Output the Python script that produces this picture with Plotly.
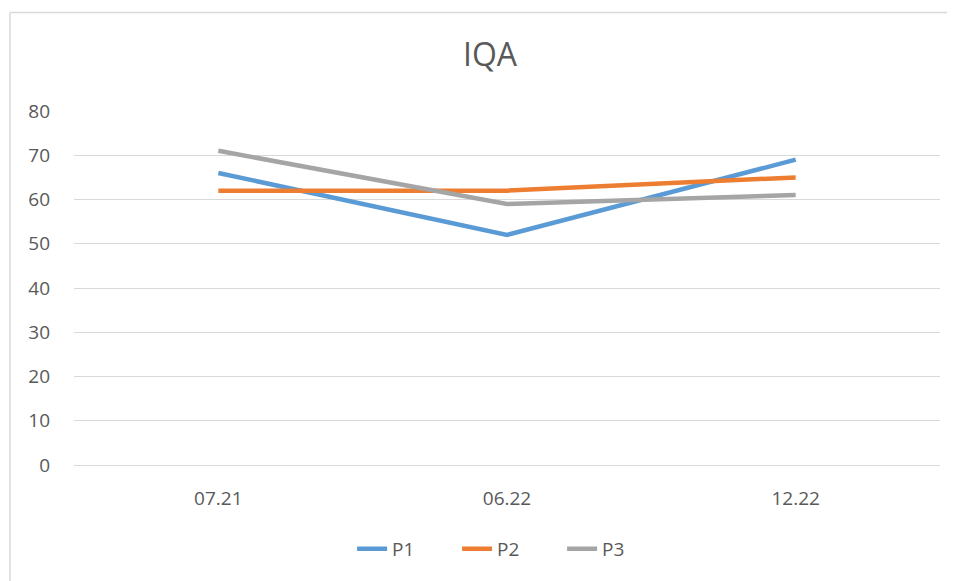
import plotly.graph_objects as go

categories = ["07.21", "06.22", "12.22"]
p1 = [66, 52, 69]
p2 = [62, 62, 65]
p3 = [71, 59, 61]
series_names = ["P1", "P2", "P3"]
colors = ["#5B9BD5", "#ED7D31", "#A5A5A5"]
y_ticks = [0, 10, 20, 30, 40, 50, 60, 70, 80]

FONT = "Open Sans"
TXT = "#595959"

# page has an 8px body margin; figure is sized so it ends at the window edge
W, H = 947, 573

fig = go.Figure()
for name, vals, col in zip(series_names, [p1, p2, p3], colors):
    fig.add_trace(go.Scatter(x=categories, y=vals, mode="lines", name=name,
                             line=dict(color=col, width=4.5)))

bx = (10 - 74) / 866
by = (465 - 12.5) / 354
fig.update_layout(
    width=W, height=H,
    margin=dict(l=66, r=15, t=103, b=116),
    paper_bgcolor="white", plot_bgcolor="white",
    title=dict(text="IQA", x=482 / W, xanchor="center", y=1 - 47 / H, yanchor="middle",
               font=dict(family=FONT, size=32, color=TXT)),
    showlegend=True,
    legend=dict(orientation="h", x=0.503, xanchor="center", y=-0.237, yanchor="middle",
                font=dict(family=FONT, size=19, color=TXT),
                entrywidth=60, entrywidthmode="pixels"),
    xaxis=dict(type="category", range=[-0.5, 2.5], showgrid=False, showline=False,
               zeroline=False, ticks="", ticklabelstandoff=20,
               tickfont=dict(family=FONT, size=19, color=TXT)),
    yaxis=dict(range=[0, 80], tickvals=y_ticks, showgrid=True, gridcolor="#D9D9D9",
               gridwidth=1, zeroline=True, zerolinecolor="#D9D9D9", zerolinewidth=1,
               showline=False, ticks="", ticklabelstandoff=23,
               tickfont=dict(family=FONT, size=19, color=TXT)),
    shapes=[
        dict(type="line", xref="paper", yref="paper", x0=bx, x1=bx, y0=-0.6, y1=by,
             line=dict(color="#D9D9D9", width=1.5), layer="below"),
        dict(type="line", xref="paper", yref="paper", x0=bx, x1=1.02, y0=by, y1=by,
             line=dict(color="#D9D9D9", width=1.5), layer="below"),
    ],
)

fig.write_html("out.html")
